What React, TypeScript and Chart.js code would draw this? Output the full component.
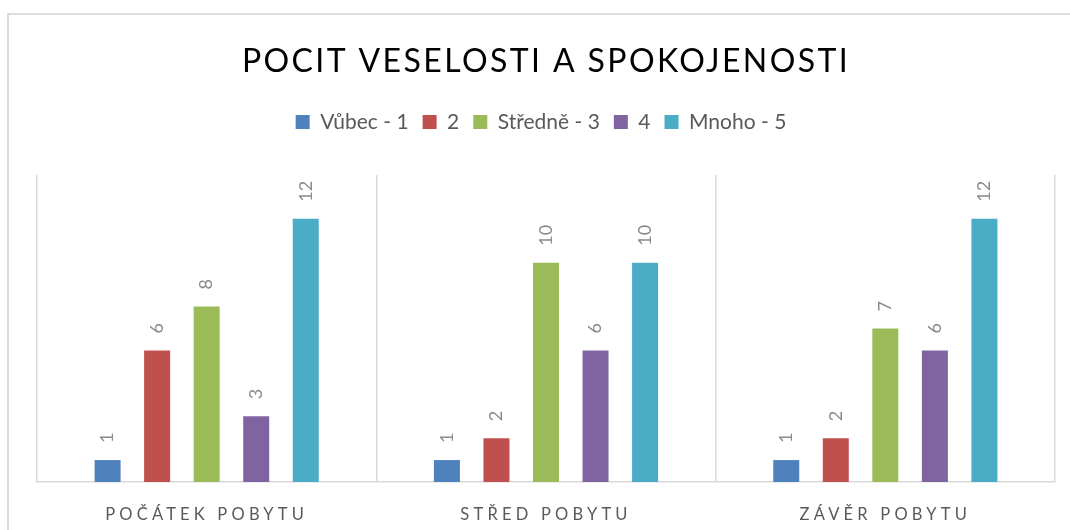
import React, { useEffect, useRef } from "react";
import { Chart, registerables } from "chart.js";

Chart.register(...registerables);

const categories = ["POČÁTEK POBYTU", "STŘED POBYTU", "ZÁVĚR POBYTU"];
const seriesNames = ["Vůbec - 1", "2", "Středně - 3", "4", "Mnoho - 5"];
const vubec1 = [1, 1, 1];
const dva2 = [6, 2, 2];
const stredne3 = [8, 10, 7];
const ctyri4 = [3, 6, 6];
const mnoho5 = [12, 10, 12];
const seriesColors = ["#4F81BD", "#C0504D", "#9BBB59", "#8064A2", "#4BACC6"];
const titleText = "POCIT VESELOSTI A SPOKOJENOSTI";

const FONT = "Lato, 'Open Sans', sans-serif";
const LEGEND_HEIGHT = 77.5;

const spacingPlugin = {
  id: "letterSpacingPatch",
  beforeLayout(chart: any) {
    const lg = chart.legend;
    if (lg && !lg.__patched) {
      const origFit = lg.fit.bind(lg);
      lg.fit = function (...args: any[]) {
        origFit(...args);
        this.height = LEGEND_HEIGHT;
      };
      const origDraw = lg.draw.bind(lg);
      lg.draw = function (...args: any[]) {
        const c = chart.ctx;
        c.save();
        c.translate(-5, 0);
        origDraw(...args);
        c.restore();
      };
      lg.__patched = true;
    }
  },
  afterLayout(chart: any) {
    const tb = chart.titleBlock;
    if (tb && !tb.__patched) {
      const orig = tb.draw.bind(tb);
      tb.draw = function (...args: any[]) {
        const c = chart.ctx;
        c.save();
        c.letterSpacing = "2.4px";
        orig(...args);
        c.restore();
      };
      tb.__patched = true;
    }
    const xs = chart.scales.x;
    if (xs && !xs.__patched) {
      const origL = xs.drawLabels.bind(xs);
      xs.drawLabels = function (...args: any[]) {
        const c = chart.ctx;
        c.save();
        c.letterSpacing = "4.2px";
        origL(...args);
        c.restore();
      };
      xs.__patched = true;
    }
  },
};

const dataLabelPlugin = {
  id: "rotatedLabels",
  afterDatasetsDraw(chart: any) {
    const ctx = chart.ctx;
    chart.data.datasets.forEach((ds: any, di: number) => {
      const meta = chart.getDatasetMeta(di);
      meta.data.forEach((el: any, i: number) => {
        const v = ds.data[i];
        ctx.save();
        ctx.translate(el.x, el.y - 17);
        ctx.rotate(-Math.PI / 2);
        ctx.font = `18px ${FONT}`;
        ctx.fillStyle = "#8a8a8a";
        ctx.textAlign = "left";
        ctx.textBaseline = "middle";
        ctx.fillText(String(v), 0, 0);
        ctx.restore();
      });
    });
  },
};

export default function App() {
  const ref = useRef<HTMLCanvasElement | null>(null);
  useEffect(() => {
    if (!ref.current) return;
    const seriesData = [vubec1, dva2, stredne3, ctyri4, mnoho5];
    const chart = new Chart(ref.current, {
      type: "bar",
      data: {
        labels: categories,
        datasets: seriesNames.map((name, i) => ({
          label: name,
          data: seriesData[i],
          backgroundColor: seriesColors[i],
          borderWidth: 0,
          barPercentage: 0.525,
          categoryPercentage: 0.73,
        })),
      },
      options: {
        responsive: false,
        animation: false,
        devicePixelRatio: 1,
        layout: { padding: { left: 37, right: 15, top: 0, bottom: 0 } },
        plugins: {
          title: {
            display: true,
            text: titleText,
            color: "#000000",
            font: { family: FONT, size: 32, weight: "normal" },
            padding: { top: 42, bottom: 17 },
          },
          legend: {
            display: true,
            position: "top",
            labels: {
              boxWidth: 14,
              boxHeight: 14,
              padding: 14,
              color: "#595959",
              font: { family: FONT, size: 21 },
            },
          },
          tooltip: { enabled: false },
        },
        scales: {
          x: {
            grid: { display: true, color: "#d9d9d9", lineWidth: 1.5, drawTicks: false, offset: true },
            border: { display: true, color: "#d9d9d9", width: 1.5 },
            ticks: { color: "#595959", font: { family: FONT, size: 16.5 }, padding: 22.5 },
            afterFit: (s: any) => {
              s.height = 48;
            },
          },
          y: {
            display: false,
            min: 0,
            max: 14,
          },
        },
      },
      plugins: [spacingPlugin, dataLabelPlugin],
    });
    return () => chart.destroy();
  }, []);
  return (
    <div style={{ position: "fixed", left: 0, top: 0, width: 1070, height: 530, overflow: "hidden", background: "#fff" }}>
      <div style={{ position: "absolute", left: 7, top: 13, width: 1120, height: 600, border: "2px solid #dcdcdc", boxSizing: "border-box" }} />
      <canvas ref={ref} width={1070} height={530} style={{ position: "absolute", left: 0, top: 0 }} />
    </div>
  );
}
